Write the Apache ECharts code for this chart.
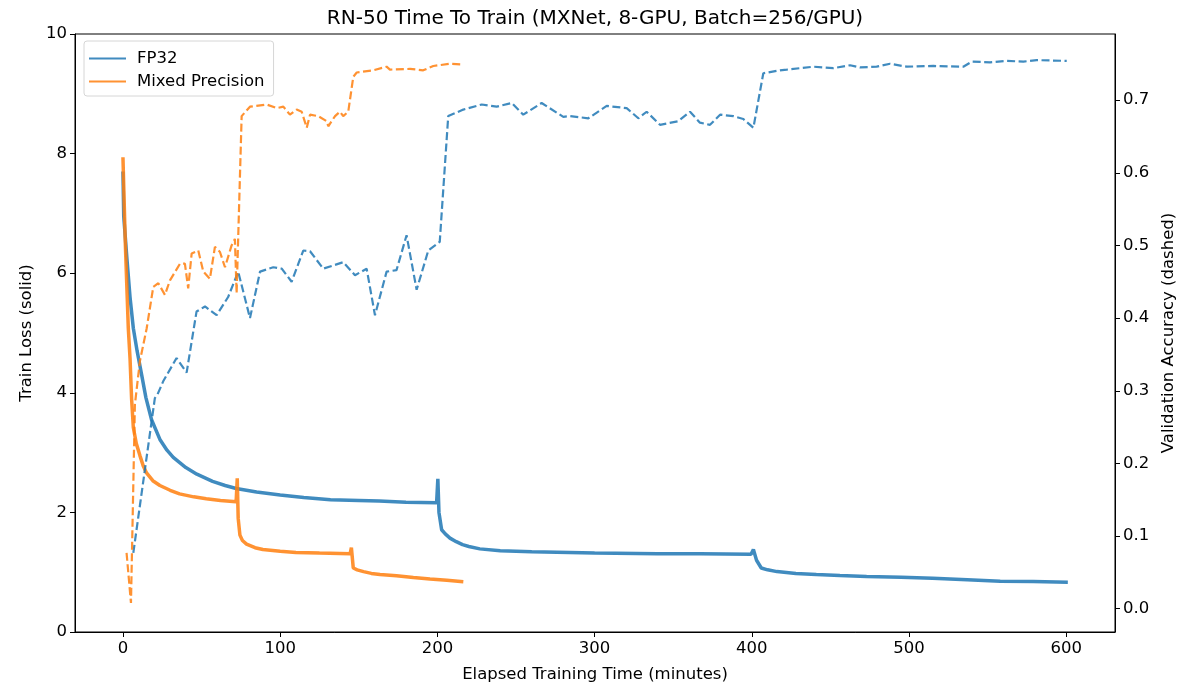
<!DOCTYPE html>
<html>
<head>
<meta charset="utf-8">
<script src="https://cdn.jsdelivr.net/npm/echarts@6/dist/echarts.min.js"></script>
<style>
  html, body { margin: 0; padding: 0; background: #fff; }
  #chart { width: 1190px; height: 688px; }
</style>
</head>
<body>
<div id="chart"></div>
<script>
// tick labels
const timeTicks = [0, 100, 200, 300, 400, 500, 600];
const accTicks = [0, 0.1, 0.2, 0.3, 0.4, 0.5, 0.6, 0.7];

// train loss (solid), [minutes, loss]
const fp32Loss = [
  [0, 7.7], [0.5, 6.95], [2.5, 6.25], [4.5, 5.6], [6.6, 5.08], [9, 4.7],
  [11.9, 4.3], [14.6, 3.92], [18.2, 3.55], [23.5, 3.22], [28, 3.04], [32, 2.92],
  [40, 2.75], [47, 2.64], [57, 2.52], [65, 2.45], [72, 2.4], [85, 2.34],
  [100, 2.29], [115, 2.25], [132, 2.21], [150, 2.2], [163, 2.19], [180, 2.17],
  [199.5, 2.16], [200.3, 2.56], [201, 2.0], [202.7, 1.71], [205, 1.64],
  [208, 1.57], [212, 1.51], [216, 1.46], [220, 1.43], [227, 1.39], [240, 1.36],
  [260, 1.34], [300, 1.32], [340, 1.31], [367, 1.31], [399.5, 1.3], [401, 1.38],
  [403, 1.2], [406, 1.07], [410, 1.04], [416, 1.01], [428, 0.98], [441, 0.96],
  [456, 0.945], [473, 0.93], [495, 0.915], [515, 0.9], [537, 0.875], [558, 0.85],
  [579, 0.845], [601, 0.83]
];
const mixedLoss = [
  [0, 7.94], [1.5, 6.5], [3.4, 5.08], [4.5, 4.58], [5.5, 3.9], [6.6, 3.42],
  [8.5, 3.15], [10.8, 2.95], [13, 2.77], [15, 2.66], [19, 2.53], [23.5, 2.45],
  [30, 2.37], [36, 2.31], [45, 2.26], [53, 2.23], [62, 2.2], [72, 2.18],
  [72.7, 2.57], [73.3, 1.9], [74.4, 1.62], [76, 1.53], [78.6, 1.47], [84, 1.41],
  [89, 1.38], [100, 1.35], [110, 1.33], [125, 1.32], [144.5, 1.31], [145.3, 1.41],
  [146.5, 1.07], [149, 1.04], [153, 1.01], [158, 0.98], [163.5, 0.96],
  [174, 0.94], [184.7, 0.91], [195.3, 0.885], [206, 0.865], [216.5, 0.84]
];

// validation accuracy (dashed), [minutes, accuracy]
const fp32Acc = [
  [6.6, 0.077], [20.3, 0.29], [22, 0.295], [25.6, 0.313], [34.1, 0.345],
  [40.5, 0.325], [46.8, 0.409], [52.2, 0.416], [59.6, 0.404], [66.9, 0.429],
  [73.3, 0.464], [80.8, 0.4], [87.2, 0.464], [95.6, 0.47], [101, 0.468],
  [107.3, 0.45], [114.7, 0.493], [119, 0.492], [127.4, 0.468], [140.1, 0.477],
  [147.6, 0.459], [155, 0.468], [160.3, 0.404], [167.7, 0.464], [174, 0.466],
  [180.4, 0.514], [186.8, 0.439], [194.2, 0.493], [201.5, 0.505], [206.9, 0.678],
  [216.5, 0.687], [228.2, 0.694], [237.7, 0.691], [247.3, 0.696], [254.6, 0.68],
  [266.3, 0.696], [280.1, 0.677], [284.4, 0.678], [296, 0.675], [307.7, 0.692],
  [320.4, 0.689], [327.8, 0.675], [333.1, 0.684], [341.6, 0.666], [353.2, 0.671],
  [360.7, 0.684], [367, 0.669], [373.4, 0.666], [379.8, 0.68], [388.2, 0.678],
  [394.6, 0.674], [401, 0.662], [407.3, 0.737], [417.9, 0.741], [422.2, 0.742],
  [439.1, 0.746], [451.8, 0.744], [462.5, 0.748], [468.8, 0.745], [479.4, 0.746],
  [487.9, 0.75], [498.5, 0.746], [515.5, 0.747], [534.5, 0.746], [539.9, 0.753],
  [551.5, 0.752], [562.1, 0.754], [572.7, 0.753], [581.2, 0.755], [600.3, 0.754]
];
const mixedAcc = [
  [2.3, 0.077], [5.1, 0.008], [7.6, 0.281], [10.8, 0.341], [15.1, 0.386],
  [19.3, 0.443], [22.5, 0.448], [26.7, 0.432], [29.9, 0.452], [36.3, 0.475],
  [39.4, 0.475], [41.5, 0.441], [43.7, 0.489], [47.9, 0.493], [51.1, 0.464],
  [55.3, 0.454], [58.5, 0.498], [61.7, 0.491], [64.9, 0.47], [69.1, 0.5],
  [71.2, 0.509], [72.3, 0.434], [75.5, 0.678], [80.8, 0.691], [91.4, 0.694],
  [97.8, 0.689], [102, 0.691], [106.2, 0.68], [110.5, 0.687], [113.7, 0.684],
  [116.9, 0.662], [119, 0.68], [124.2, 0.678], [129.6, 0.671], [130.6, 0.664],
  [134.9, 0.678], [138, 0.684], [140.1, 0.678], [143.3, 0.684], [146.5, 0.732],
  [148.7, 0.738], [159.2, 0.741], [167.7, 0.746], [169.8, 0.742], [182.6, 0.743],
  [191, 0.741], [197.4, 0.747], [208, 0.75], [216.5, 0.749]
];

const blue = "#1f77b4";
const orange = "#ff7f0e";
const font = "DejaVu Sans";
const fs = 16.5;

const chart = echarts.init(document.getElementById("chart"));

const axisCommon = {
  axisLine: { show: true, onZero: false, lineStyle: { color: "#000", width: 1 } },
  axisTick: { show: true, inside: false, length: 5, lineStyle: { color: "#000" } },
  splitLine: { show: false },
  nameTextStyle: { fontFamily: font, fontSize: fs, color: "#000" },
};

const option = {
  animation: false,
  backgroundColor: "#fff",
  textStyle: { fontFamily: font },
  title: {
    text: "RN-50 Time To Train (MXNet, 8-GPU, Batch=256/GPU)",
    left: "center",
    top: 4,
    textStyle: { fontFamily: font, fontSize: 20, fontWeight: "normal", color: "#000" },
  },
  legend: {
    data: ["FP32", "Mixed Precision"],
    orient: "vertical",
    left: 84,
    top: 41,
    itemWidth: 37,
    itemHeight: 14,
    itemGap: 6,
    padding: [9, 9, 6, 4],
    borderColor: "#d6d6d6",
    borderWidth: 1,
    borderRadius: 3,
    backgroundColor: "rgba(255,255,255,0.8)",
    itemStyle: { opacity: 0 },
    lineStyle: { width: 2 },
    textStyle: { fontFamily: font, fontSize: fs, color: "#000", padding: [0, 0, 0, 6] },
  },
  grid: {
    left: 75,
    right: 75,
    top: 34,
    bottom: 52,
    show: true,
    borderColor: "#000",
    borderWidth: 1,
    backgroundColor: "transparent",
  },
  xAxis: {
    type: "value",
    min: -30.5,
    max: 631,
    name: "Elapsed Training Time (minutes)",
    nameLocation: "middle",
    nameGap: 34,
    ...axisCommon,
    axisTick: { ...axisCommon.axisTick, customValues: timeTicks },
    axisLabel: {
      customValues: timeTicks,
      fontFamily: font, fontSize: fs, color: "#000", margin: 8,
    },
  },
  yAxis: [
    {
      type: "value",
      min: 0,
      max: 10,
      interval: 2,
      position: "left",
      name: "Train Loss (solid)",
      nameLocation: "middle",
      nameGap: 40,
      nameRotate: 90,
      ...axisCommon,
      axisLabel: { fontFamily: font, fontSize: fs, color: "#000", margin: 8 },
    },
    {
      type: "value",
      min: -0.032,
      max: 0.791,
      position: "right",
      name: "Validation Accuracy (dashed)",
      nameLocation: "middle",
      nameGap: 41,
      nameRotate: 90,
      ...axisCommon,
      axisTick: { ...axisCommon.axisTick, customValues: accTicks },
      axisLabel: {
        customValues: accTicks,
        formatter: (v) => v.toFixed(1),
        fontFamily: font, fontSize: fs, color: "#000", margin: 8,
      },
    },
  ],
  series: [
    {
      name: "FP32",
      type: "line",
      yAxisIndex: 0,
      data: fp32Loss,
      symbol: "none",
      z: 2,
      color: blue,
      lineStyle: { color: blue, width: 3.5, opacity: 0.85 },
    },
    {
      name: "Mixed Precision",
      type: "line",
      yAxisIndex: 0,
      data: mixedLoss,
      symbol: "none",
      z: 2,
      color: orange,
      lineStyle: { color: orange, width: 3.5, opacity: 0.85 },
    },
    {
      name: "FP32 accuracy",
      type: "line",
      yAxisIndex: 1,
      data: fp32Acc,
      symbol: "none",
      z: 3,
      color: blue,
      lineStyle: { color: blue, width: 2.2, type: [8, 3.5], opacity: 0.85 },
    },
    {
      name: "Mixed Precision accuracy",
      type: "line",
      yAxisIndex: 1,
      data: mixedAcc,
      symbol: "none",
      z: 3,
      color: orange,
      lineStyle: { color: orange, width: 2.2, type: [8, 3.5], opacity: 0.85 },
    },
  ],
};

chart.setOption(option);
</script>
</body>
</html>
